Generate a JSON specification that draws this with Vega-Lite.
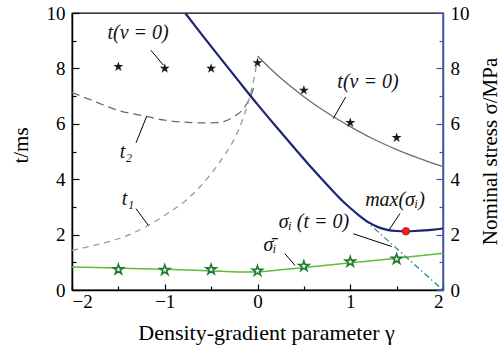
{
  "$schema": "https://vega.github.io/schema/vega-lite/v6.json",
  "width": 371,
  "height": 277,
  "autosize": {"type": "none"},
  "padding": {"left": 72, "top": 13, "right": 58, "bottom": 57},
  "background": "white",
  "config": {
    "view": {"stroke": "black", "strokeWidth": 1.3},
    "font": "Liberation Serif"
  },
  "datasets": {
    "curves": [
      {"s": "max", "g": -0.78, "v": 10},
      {"s": "max", "g": -0.6, "v": 9.22},
      {"s": "max", "g": -0.4, "v": 8.37},
      {"s": "max", "g": -0.2, "v": 7.53},
      {"s": "max", "g": 0, "v": 6.7},
      {"s": "max", "g": 0.2, "v": 5.9},
      {"s": "max", "g": 0.4, "v": 5.12},
      {"s": "max", "g": 0.6, "v": 4.35},
      {"s": "max", "g": 0.8, "v": 3.62},
      {"s": "max", "g": 0.9, "v": 3.27},
      {"s": "max", "g": 1.0, "v": 2.96},
      {"s": "max", "g": 1.1, "v": 2.68},
      {"s": "max", "g": 1.2, "v": 2.44},
      {"s": "max", "g": 1.3, "v": 2.27},
      {"s": "max", "g": 1.4, "v": 2.17},
      {"s": "max", "g": 1.5, "v": 2.13},
      {"s": "max", "g": 1.6, "v": 2.12},
      {"s": "max", "g": 1.7, "v": 2.13},
      {"s": "max", "g": 1.8, "v": 2.15},
      {"s": "max", "g": 1.9, "v": 2.18},
      {"s": "max", "g": 2.0, "v": 2.22},
      {"s": "t0", "g": 1.15, "v": 2.55},
      {"s": "t0", "g": 2.0, "v": 0},
      {"s": "tv0", "g": 0, "v": 8.45},
      {"s": "tv0", "g": 0.25, "v": 7.65},
      {"s": "tv0", "g": 0.5, "v": 6.98},
      {"s": "tv0", "g": 0.75, "v": 6.4},
      {"s": "tv0", "g": 1.0, "v": 5.9},
      {"s": "tv0", "g": 1.25, "v": 5.45},
      {"s": "tv0", "g": 1.5, "v": 5.07},
      {"s": "tv0", "g": 1.75, "v": 4.74},
      {"s": "tv0", "g": 2.0, "v": 4.45},
      {"s": "t2", "g": -2, "v": 7.13},
      {"s": "t2", "g": -1.75, "v": 6.8},
      {"s": "t2", "g": -1.5, "v": 6.48},
      {"s": "t2", "g": -1.2, "v": 6.27},
      {"s": "t2", "g": -1.0, "v": 6.13},
      {"s": "t2", "g": -0.75, "v": 6.05},
      {"s": "t2", "g": -0.6, "v": 6.03},
      {"s": "t2", "g": -0.45, "v": 6.04},
      {"s": "t2", "g": -0.35, "v": 6.1},
      {"s": "t2", "g": -0.25, "v": 6.27},
      {"s": "t2", "g": -0.15, "v": 6.55},
      {"s": "t2", "g": -0.08, "v": 6.95},
      {"s": "t2", "g": -0.04, "v": 7.3},
      {"s": "t1", "g": -2, "v": 1.43},
      {"s": "t1", "g": -1.75, "v": 1.62},
      {"s": "t1", "g": -1.5, "v": 1.85},
      {"s": "t1", "g": -1.25, "v": 2.2},
      {"s": "t1", "g": -1.0, "v": 2.7},
      {"s": "t1", "g": -0.75, "v": 3.3},
      {"s": "t1", "g": -0.5, "v": 4.2},
      {"s": "t1", "g": -0.35, "v": 4.9},
      {"s": "t1", "g": -0.25, "v": 5.45},
      {"s": "t1", "g": -0.15, "v": 6.25},
      {"s": "t1", "g": -0.09, "v": 6.9},
      {"s": "t1", "g": -0.04, "v": 7.6},
      {"s": "t1", "g": -0.01, "v": 8.15},
      {"s": "mean", "g": -2, "v": 0.83},
      {"s": "mean", "g": -1.5, "v": 0.79},
      {"s": "mean", "g": -1, "v": 0.75},
      {"s": "mean", "g": -0.5, "v": 0.69},
      {"s": "mean", "g": -0.2, "v": 0.65},
      {"s": "mean", "g": 0, "v": 0.66},
      {"s": "mean", "g": 0.25, "v": 0.73},
      {"s": "mean", "g": 0.5, "v": 0.81},
      {"s": "mean", "g": 1.0, "v": 0.98},
      {"s": "mean", "g": 1.5, "v": 1.15},
      {"s": "mean", "g": 2.0, "v": 1.33}
    ],
    "points": [
      {"s": "tstar", "g": -1.5, "v": 8.06},
      {"s": "tstar", "g": -1, "v": 8.0},
      {"s": "tstar", "g": -0.5, "v": 8.0},
      {"s": "tstar", "g": 0, "v": 8.2},
      {"s": "tstar", "g": 0.5, "v": 7.21},
      {"s": "tstar", "g": 1.0, "v": 6.04},
      {"s": "tstar", "g": 1.5, "v": 5.5},
      {"s": "gstar", "g": -1.5, "v": 0.74},
      {"s": "gstar", "g": -1, "v": 0.72},
      {"s": "gstar", "g": -0.5, "v": 0.74},
      {"s": "gstar", "g": 0, "v": 0.69},
      {"s": "gstar", "g": 0.5, "v": 0.86},
      {"s": "gstar", "g": 1.0, "v": 1.02},
      {"s": "gstar", "g": 1.5, "v": 1.12},
      {"s": "red", "g": 1.6, "v": 2.12}
    ],
    "leaders": [
      {"g": -1.151, "v": 8.66, "g2": -1.015, "v2": 8.12},
      {"g": 0.951, "v": 6.97, "g2": 0.817, "v2": 6.19},
      {"g": -1.31, "v": 5.31, "g2": -1.195, "v2": 6.27},
      {"g": -1.31, "v": 2.94, "g2": -1.177, "v2": 2.33},
      {"g": 1.536, "v": 2.76, "g2": 1.42, "v2": 2.18},
      {"g": 1.033, "v": 2.03, "g2": 1.447, "v2": 1.57},
      {"g": 0.296, "v": 1.31, "g2": 0.404, "v2": 0.89}
    ],
    "labels": [
      {"g": -1.288, "v": 9.28, "t": "t(v = 0)"},
      {"g": 1.191, "v": 7.52, "t": "t(v = 0)"},
      {"g": -1.418, "v": 4.97, "t": "t₂"},
      {"g": -1.396, "v": 3.27, "t": "t₁"},
      {"g": 1.482, "v": 3.24, "t": "max(σᵢ)"},
      {"g": 0.609, "v": 2.45, "t": "σᵢ (t = 0)"},
      {"g": 0.135, "v": 1.61, "t": "σ̄ᵢ"}
    ]
  },
  "resolve": {"scale": {"y": "independent"}},
  "layer": [
    {
      "data": {"name": "curves"},
      "transform": [{"filter": "datum.s === 't2'"}],
      "mark": {"type": "line", "color": "#6a6a6a", "strokeWidth": 1.3, "strokeDash": [8, 5], "interpolate": "monotone", "clip": true},
      "encoding": {
        "x": {"field": "g", "type": "quantitative", "scale": {"domain": [-2, 2], "nice": false},
          "axis": {
            "orient": "bottom",
            "values": [-2, -1.5, -1, -0.5, 0, 0.5, 1, 1.5, 2],
            "labelExpr": "datum.value % 1 === 0 ? format(datum.value, 'd') : ''",
            "tickSize": {"condition": {"test": "datum.value % 1 === 0", "value": -6}, "value": -4},
            "tickColor": "black", "tickWidth": 1.2,
            "domainColor": "black", "domainWidth": 1.5,
            "labelFont": "Liberation Serif", "labelFontSize": 19, "labelColor": "black", "labelPadding": 8,
            "grid": false,
            "title": "Density-gradient parameter γ",
            "titleFont": "Liberation Serif", "titleFontSize": 22, "titleFontWeight": "normal", "titleColor": "black",
            "titleX": 194, "titleY": 49, "titleBaseline": "alphabetic", "titleAlign": "center"
          }},
        "y": {"field": "v", "type": "quantitative", "scale": {"domain": [0, 10], "nice": false},
          "axis": {
            "orient": "left",
            "values": [0, 1, 2, 3, 4, 5, 6, 7, 8, 9, 10],
            "labelExpr": "datum.value % 2 === 0 ? datum.label : ''",
            "tickSize": {"condition": {"test": "datum.value % 2 === 0", "value": -7}, "value": -4},
            "tickColor": "black", "tickWidth": 1.2,
            "domainColor": "black", "domainWidth": 1.5,
            "labelFont": "Liberation Serif", "labelFontSize": 19, "labelColor": "black", "labelPadding": 14,
            "grid": false,
            "title": "t/ms",
            "titleFont": "Liberation Serif", "titleFontSize": 21, "titleFontWeight": "normal", "titleColor": "black",
            "titleX": -51, "titleY": 132, "titleAngle": -90, "titleBaseline": "middle", "titleAlign": "center"
          }}
      }
    },
    {
      "data": {"name": "curves"},
      "transform": [{"filter": "datum.s === 'mean'"}],
      "mark": {"type": "line", "color": "#5cbd3a", "strokeWidth": 1.5, "interpolate": "monotone"},
      "encoding": {
        "x": {"field": "g", "type": "quantitative"},
        "y": {"field": "v", "type": "quantitative", "scale": {"domain": [0, 10], "nice": false},
          "axis": {
            "orient": "right",
            "values": [0, 1, 2, 3, 4, 5, 6, 7, 8, 9, 10],
            "labelExpr": "datum.value % 2 === 0 ? datum.label : ''",
            "tickSize": {"condition": {"test": "datum.value % 2 === 0", "value": -7}, "value": -4},
            "tickColor": "#3556b5", "tickWidth": 1.2,
            "domainColor": "#3556b5", "domainWidth": 1.5,
            "labelFont": "Liberation Serif", "labelFontSize": 19, "labelColor": "black", "labelPadding": 14,
            "grid": false,
            "title": "Nominal stress σ/MPa",
            "titleFont": "Liberation Serif", "titleFontSize": 21, "titleFontWeight": "normal", "titleColor": "black",
            "titleX": 47, "titleY": 138, "titleAngle": -90, "titleBaseline": "middle", "titleAlign": "center"
          }}
      }
    },
    {
      "data": {"name": "curves"},
      "transform": [{"filter": "datum.s === 't1'"}],
      "mark": {"type": "line", "color": "#9a9a9a", "strokeWidth": 1.3, "strokeDash": [6, 5], "interpolate": "monotone"},
      "encoding": {
        "x": {"field": "g", "type": "quantitative"},
        "y": {"field": "v", "type": "quantitative", "scale": {"domain": [0, 10], "nice": false}, "axis": null}
      }
    },
    {
      "data": {"name": "curves"},
      "transform": [{"filter": "datum.s === 'tv0'"}],
      "mark": {"type": "line", "color": "#6e6e6e", "strokeWidth": 1.3, "interpolate": "monotone"},
      "encoding": {
        "x": {"field": "g", "type": "quantitative"},
        "y": {"field": "v", "type": "quantitative", "scale": {"domain": [0, 10], "nice": false}, "axis": null}
      }
    },
    {
      "data": {"name": "curves"},
      "transform": [{"filter": "datum.s === 't0'"}],
      "mark": {"type": "line", "color": "#1a8c8c", "strokeWidth": 1.3, "strokeDash": [6, 3, 1.5, 3]},
      "encoding": {
        "x": {"field": "g", "type": "quantitative"},
        "y": {"field": "v", "type": "quantitative", "scale": {"domain": [0, 10], "nice": false}, "axis": null}
      }
    },
    {
      "data": {"name": "curves"},
      "transform": [{"filter": "datum.s === 'max'"}],
      "mark": {"type": "line", "color": "#1c2473", "strokeWidth": 2.2, "interpolate": "monotone", "clip": true},
      "encoding": {
        "x": {"field": "g", "type": "quantitative"},
        "y": {"field": "v", "type": "quantitative", "scale": {"domain": [0, 10], "nice": false}, "axis": null}
      }
    },
    {
      "data": {"name": "points"},
      "transform": [{"filter": "datum.s === 'tstar'"}],
      "mark": {"type": "point", "shape": "M0,-1L0.2245,-0.309L0.951,-0.309L0.363,0.118L0.588,0.809L0,0.382L-0.588,0.809L-0.363,0.118L-0.951,-0.309L-0.2245,-0.309Z", "filled": true, "color": "#1a1a1a", "size": 110, "opacity": 1},
      "encoding": {
        "x": {"field": "g", "type": "quantitative"},
        "y": {"field": "v", "type": "quantitative", "scale": {"domain": [0, 10], "nice": false}, "axis": null}
      }
    },
    {
      "data": {"name": "points"},
      "transform": [{"filter": "datum.s === 'gstar'"}],
      "mark": {"type": "point", "shape": "M0,-1L0.2245,-0.309L0.951,-0.309L0.363,0.118L0.588,0.809L0,0.382L-0.588,0.809L-0.363,0.118L-0.951,-0.309L-0.2245,-0.309Z", "filled": false, "fill": "white", "fillOpacity": 1, "stroke": "#1f7a2e", "strokeWidth": 1.6, "size": 110, "opacity": 1},
      "encoding": {
        "x": {"field": "g", "type": "quantitative"},
        "y": {"field": "v", "type": "quantitative", "scale": {"domain": [0, 10], "nice": false}, "axis": null}
      }
    },
    {
      "data": {"name": "points"},
      "transform": [{"filter": "datum.s === 'red'"}],
      "mark": {"type": "point", "shape": "circle", "filled": true, "fill": "#ee2222", "stroke": "#b01010", "strokeWidth": 0.8, "size": 55, "opacity": 1},
      "encoding": {
        "x": {"field": "g", "type": "quantitative"},
        "y": {"field": "v", "type": "quantitative", "scale": {"domain": [0, 10], "nice": false}, "axis": null}
      }
    },
    {
      "mark": {"type": "rule", "color": "black", "strokeWidth": 1, "strokeDash": [1.5, 2]},
      "encoding": {"x": {"datum": 0}}
    },
    {
      "data": {"name": "leaders"},
      "mark": {"type": "rule", "color": "black", "strokeWidth": 1},
      "encoding": {
        "x": {"field": "g", "type": "quantitative"},
        "x2": {"field": "g2"},
        "y": {"field": "v", "type": "quantitative", "scale": {"domain": [0, 10], "nice": false}, "axis": null},
        "y2": {"field": "v2"}
      }
    },
    {
      "data": {"name": "labels"},
      "mark": {"type": "text", "font": "Liberation Serif", "fontSize": 20, "fontStyle": "italic", "color": "#111", "align": "center", "baseline": "middle"},
      "encoding": {
        "x": {"field": "g", "type": "quantitative"},
        "y": {"field": "v", "type": "quantitative", "scale": {"domain": [0, 10], "nice": false}, "axis": null},
        "text": {"field": "t"}
      }
    }
  ]
}
